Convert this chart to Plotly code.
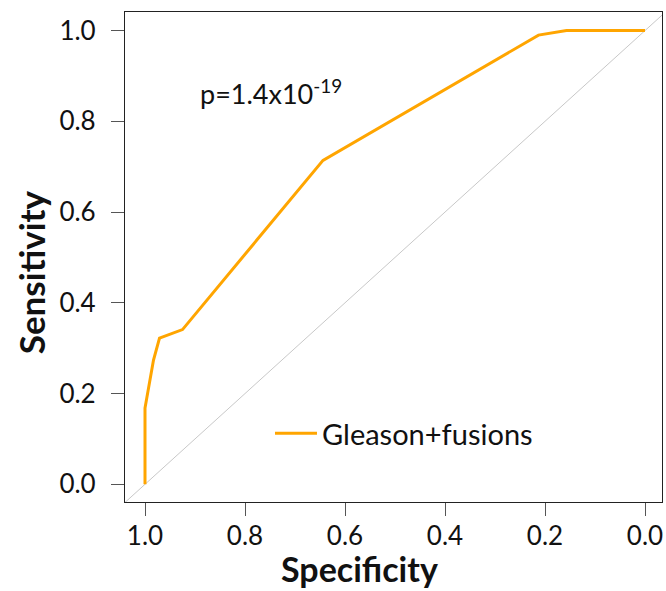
import plotly.graph_objects as go

specificity = [1.0, 1.0, 0.983, 0.971, 0.925, 0.644, 0.213, 0.157, 0.0]
sensitivity = [0.0, 0.168, 0.274, 0.322, 0.341, 0.714, 0.99, 1.0, 1.0]
series_name = "Gleason+fusions"
diag_x = [1.04, -0.04]
diag_y = [-0.04, 1.04]
tick_vals = [0.0, 0.2, 0.4, 0.6, 0.8, 1.0]
tick_text = ["0.0", "0.2", "0.4", "0.6", "0.8", "1.0"]
p_label = "p=1.4x10<sup>-19</sup>"
x_title = "<b>Specificity</b>"
y_title = "<b>Sensitivity</b>"

FONT = "Lato"

fig = go.Figure()
fig.add_trace(go.Scatter(x=diag_x, y=diag_y, mode="lines",
                         line=dict(color="#c8c8c8", width=1),
                         showlegend=False, hoverinfo="skip"))
fig.add_trace(go.Scatter(x=specificity, y=sensitivity, mode="lines",
                         name=series_name,
                         line=dict(color="#FFA500", width=3)))

axis_common = dict(
    showgrid=False, zeroline=False, showline=True, mirror=True,
    linecolor="#222222", linewidth=1.2, automargin=False,
    ticks="outside", ticklen=13, tickcolor="#555555", tickwidth=1.2,
    tickvals=tick_vals, ticktext=tick_text,
    tickfont=dict(family=FONT, size=26, color="#111111"),
)

fig.update_layout(
    width=666, height=591,
    margin=dict(l=125, r=4, t=12, b=89),
    paper_bgcolor="white", plot_bgcolor="white",
    xaxis=dict(range=[1.04, -0.034], **axis_common, ticklabelstandoff=-2),
    yaxis=dict(range=[-0.039, 1.041], **axis_common, ticklabelstandoff=10),
    legend=dict(x=0.27, y=0.14, xanchor="left", yanchor="middle",
                itemwidth=42, bgcolor="rgba(0,0,0,0)",
                font=dict(family=FONT, size=29, color="#111111")),
    annotations=[
        dict(x=0.895, y=0.865, xref="x", yref="y", text=p_label,
             showarrow=False, xanchor="left", yanchor="middle",
             font=dict(family=FONT, size=27, color="#111111")),
        dict(x=0.4367, y=-0.135, xref="paper", yref="paper", text=x_title,
             showarrow=False, xanchor="center", yanchor="middle",
             font=dict(family=FONT, size=34, color="#111111")),
        dict(x=-0.175, y=0.469, xref="paper", yref="paper", text=y_title,
             showarrow=False, xanchor="center", yanchor="middle", textangle=-90,
             font=dict(family=FONT, size=35, color="#111111")),
    ],
)

fig.write_html("out.html", config={"displayModeBar": False},
               post_script="document.body.style.margin='0';")
